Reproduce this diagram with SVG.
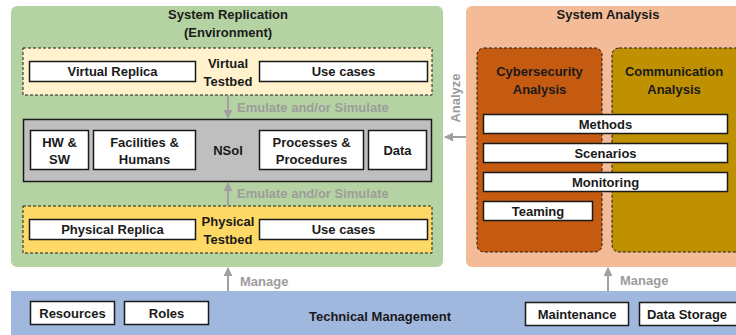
<svg xmlns="http://www.w3.org/2000/svg" width="736" height="335" viewBox="0 0 736 335">
  <style>
    text { font-family: "Liberation Sans", Arial, sans-serif; font-weight: bold; fill: #1a1a1a; }
    .t { font-size: 13px; text-anchor: middle; }
    .h { font-size: 13px; text-anchor: middle; }
    .lbl { font-size: 13px; fill: #9c9c9c; }
    .box { fill: #ffffff; stroke: #1a1a1a; stroke-width: 1.5; }
    .dash { stroke: #1a1a1a; stroke-width: 1; stroke-dasharray: 3 2; }
    .conn { stroke: #a0a0a0; stroke-width: 2; fill: none; marker-end: url(#ah); }
  </style>
  <defs>
    <marker id="ah" viewBox="0 0 10 10" refX="9" refY="5" markerWidth="4.5" markerHeight="4.5" orient="auto" markerUnits="strokeWidth">
      <path d="M0,0 L10,5 L0,10 z" fill="#a0a0a0"/>
    </marker>
  </defs>

  <!-- System Replication (Environment) -->
  <g id="system-replication">
    <rect x="11" y="6" width="432" height="261" rx="6" fill="#b5d3a2"/>
    <text class="h" x="228" y="19">System Replication</text>
    <text class="h" x="228" y="37">(Environment)</text>
  </g>

  <g id="virtual-testbed">
    <rect class="dash" x="23" y="48" width="409" height="47" fill="#fff2cc"/>
    <text class="t" x="228" y="68">Virtual</text>
    <text class="t" x="228" y="86">Testbed</text>
  </g>
  <g id="virtual-replica">
    <rect class="box" x="29.5" y="61.5" width="166" height="20"/>
    <text class="t" x="112.5" y="76">Virtual Replica</text>
  </g>
  <g id="virtual-use-cases">
    <rect class="box" x="259.5" y="61.5" width="168" height="20"/>
    <text class="t" x="343.5" y="76">Use cases</text>
  </g>

  <g id="nsoi">
    <rect x="23.5" y="119.5" width="408" height="62" fill="#bfbfbf" stroke="#1a1a1a" stroke-width="1.5"/>
    <text class="t" x="228" y="155">NSoI</text>
  </g>
  <g id="hw-sw">
    <rect class="box" x="30.5" y="130.5" width="58" height="39"/>
    <text class="t" x="59.5" y="147">HW &amp;</text>
    <text class="t" x="59.5" y="164">SW</text>
  </g>
  <g id="facilities-humans">
    <rect class="box" x="93.5" y="130.5" width="102" height="39"/>
    <text class="t" x="144.5" y="147">Facilities &amp;</text>
    <text class="t" x="144.5" y="164">Humans</text>
  </g>
  <g id="processes-procedures">
    <rect class="box" x="259.5" y="130.5" width="104" height="39"/>
    <text class="t" x="311.5" y="147">Processes &amp;</text>
    <text class="t" x="311.5" y="164">Procedures</text>
  </g>
  <g id="data">
    <rect class="box" x="368.5" y="130.5" width="58" height="39"/>
    <text class="t" x="397.5" y="155">Data</text>
  </g>

  <g id="physical-testbed">
    <rect class="dash" x="23" y="206" width="409" height="47" fill="#ffd966"/>
    <text class="t" x="228" y="226">Physical</text>
    <text class="t" x="228" y="244">Testbed</text>
  </g>
  <g id="physical-replica">
    <rect class="box" x="29.5" y="219.5" width="166" height="20"/>
    <text class="t" x="112.5" y="234">Physical Replica</text>
  </g>
  <g id="physical-use-cases">
    <rect class="box" x="259.5" y="219.5" width="168" height="20"/>
    <text class="t" x="343.5" y="234">Use cases</text>
  </g>

  <!-- System Analysis -->
  <g id="system-analysis">
    <rect x="466" y="6" width="280" height="261" rx="6" fill="#f4bb98"/>
    <text class="h" x="608" y="19">System Analysis</text>
  </g>
  <g id="cybersecurity-analysis">
    <rect class="dash" x="477" y="48" width="125" height="204" rx="7" fill="#c55a11"/>
    <text class="t" x="539.5" y="76">Cybersecurity</text>
    <text class="t" x="539.5" y="94">Analysis</text>
  </g>
  <g id="communication-analysis">
    <rect class="dash" x="612" y="48" width="134" height="204" rx="7" fill="#bf9000"/>
    <text class="t" x="674" y="76">Communication</text>
    <text class="t" x="674" y="94">Analysis</text>
  </g>
  <g id="methods">
    <rect class="box" x="483.5" y="114.5" width="244" height="19"/>
    <text class="t" x="605.5" y="129">Methods</text>
  </g>
  <g id="scenarios">
    <rect class="box" x="483.5" y="143.5" width="244" height="19"/>
    <text class="t" x="605.5" y="158">Scenarios</text>
  </g>
  <g id="monitoring">
    <rect class="box" x="483.5" y="172.5" width="244" height="19"/>
    <text class="t" x="605.5" y="187">Monitoring</text>
  </g>
  <g id="teaming">
    <rect class="box" x="483.5" y="201.5" width="109" height="19"/>
    <text class="t" x="538" y="216">Teaming</text>
  </g>

  <!-- Technical Management -->
  <g id="technical-management">
    <rect x="11" y="291" width="740" height="50" fill="#a0b7de"/>
    <text class="t" x="380" y="321">Technical Management</text>
  </g>
  <g id="resources">
    <rect class="box" x="30.5" y="301.5" width="84" height="23"/>
    <text class="t" x="72.5" y="318">Resources</text>
  </g>
  <g id="roles">
    <rect class="box" x="124.5" y="301.5" width="84" height="23"/>
    <text class="t" x="166.5" y="318">Roles</text>
  </g>
  <g id="maintenance">
    <rect class="box" x="525.5" y="302.5" width="103" height="23"/>
    <text class="t" x="577" y="319">Maintenance</text>
  </g>
  <g id="data-storage">
    <rect class="box" x="639.5" y="302.5" width="110" height="23"/>
    <text class="t" x="687" y="319">Data Storage</text>
  </g>

  <!-- Connectors -->
  <g id="connectors">
    <line class="conn" x1="228" y1="95" x2="228" y2="118"/>
    <text class="lbl" x="237" y="112">Emulate and/or Simulate</text>
    <line class="conn" x1="228" y1="206" x2="228" y2="183"/>
    <text class="lbl" x="237" y="198">Emulate and/or Simulate</text>
    <line class="conn" x1="228" y1="291" x2="228" y2="268"/>
    <text class="lbl" x="240" y="286">Manage</text>
    <line class="conn" x1="608" y1="291" x2="608" y2="268"/>
    <text class="lbl" x="620" y="285">Manage</text>
    <line class="conn" x1="466" y1="137" x2="445" y2="137"/>
    <text class="lbl" x="0" y="0" text-anchor="middle" transform="translate(460 98) rotate(-90)">Analyze</text>
  </g>
</svg>
